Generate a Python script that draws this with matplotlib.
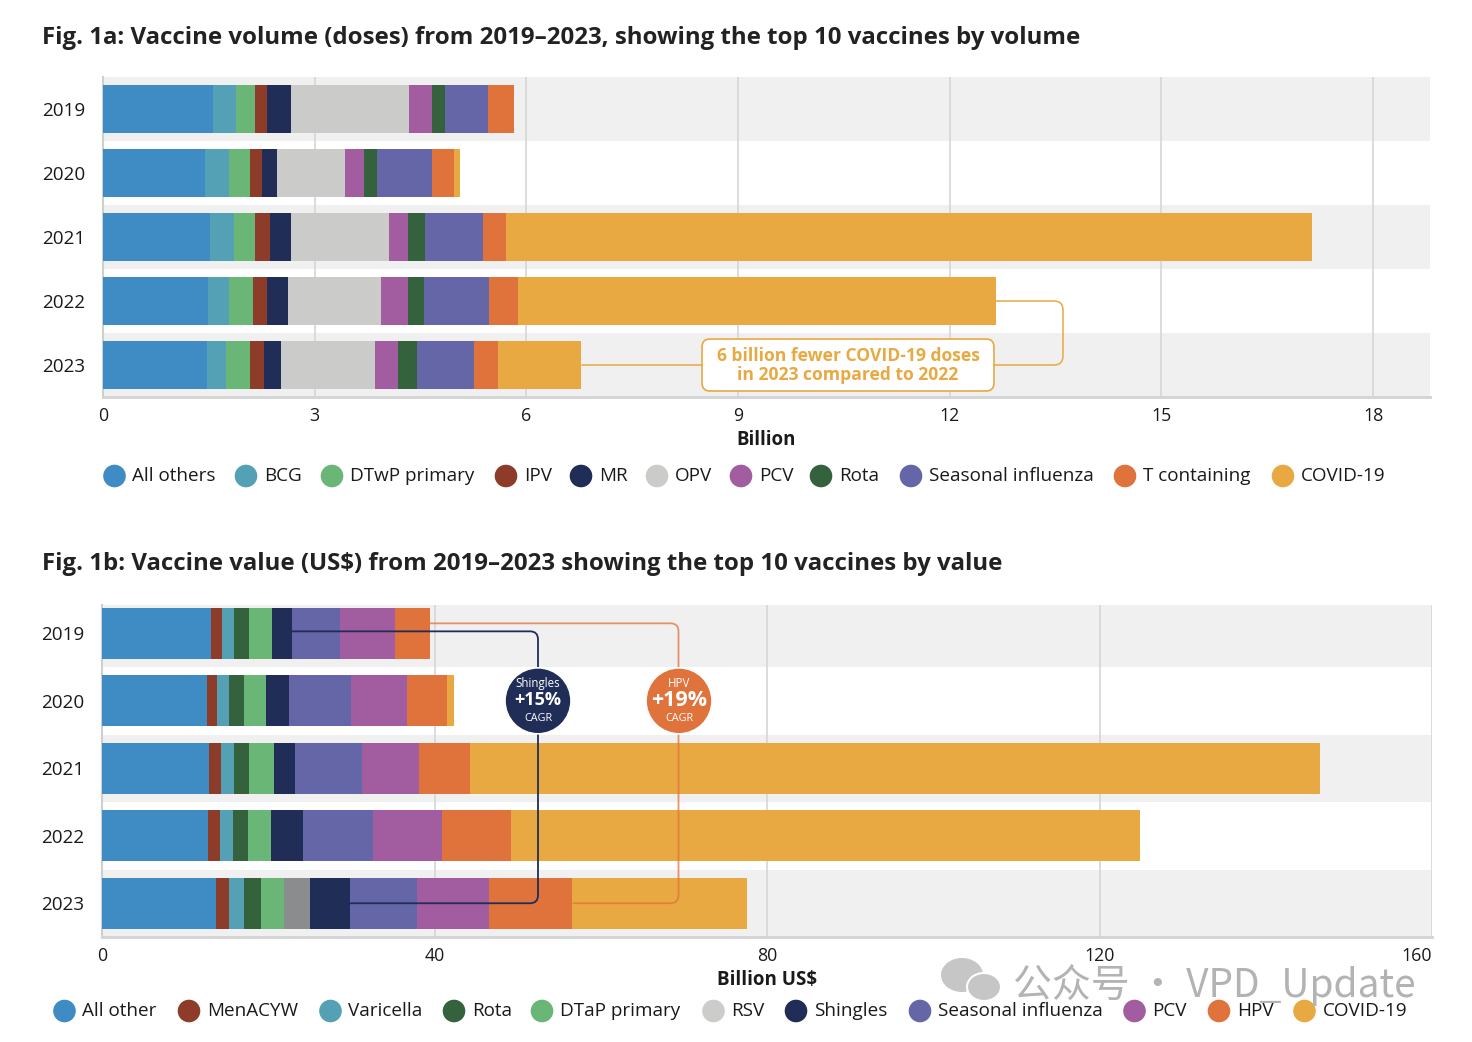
import matplotlib
matplotlib.use('Agg')
import matplotlib.pyplot as plt
import numpy as np
from matplotlib.path import Path
from matplotlib.patches import PathPatch, FancyBboxPatch, Circle, Ellipse

plt.rcParams['font.family'] = ['Open Sans', 'DejaVu Sans']

# ---------------- data ----------------
years = ['2019', '2020', '2021', '2022', '2023']

# Fig 1a: volume (billion doses)
vol_categories = ['All others', 'BCG', 'DTwP primary', 'IPV', 'MR', 'OPV', 'PCV',
                  'Rota', 'Seasonal influenza', 'T containing', 'COVID-19']
vol_all_others = [1.56, 1.45, 1.52, 1.49, 1.47]
vol_bcg = [0.33, 0.33, 0.33, 0.30, 0.28]
vol_dtwp = [0.27, 0.31, 0.30, 0.33, 0.34]
vol_ipv = [0.17, 0.17, 0.21, 0.20, 0.19]
vol_mr = [0.33, 0.21, 0.30, 0.30, 0.24]
vol_opv = [1.67, 0.96, 1.39, 1.32, 1.33]
vol_pcv = [0.33, 0.27, 0.27, 0.38, 0.33]
vol_rota = [0.18, 0.18, 0.24, 0.23, 0.27]
vol_flu = [0.62, 0.78, 0.82, 0.92, 0.81]
vol_tcont = [0.37, 0.31, 0.33, 0.41, 0.34]
vol_covid = [0.0, 0.085, 11.42, 6.77, 1.18]
vol_colors = ['#3f8cc4', '#54a0b4', '#69b677', '#8c3c28', '#1f2d57', '#cbcbc9',
              '#a25da0', '#33623d', '#6466a8', '#e0723c', '#e8a942']
vol_ticks = [0, 3, 6, 9, 12, 15, 18]

# Fig 1b: value (billion US$)
val_categories = ['All other', 'MenACYW', 'Varicella', 'Rota', 'DTaP primary', 'RSV',
                  'Shingles', 'Seasonal influenza', 'PCV', 'HPV', 'COVID-19']
val_all_other = [13.1, 12.6, 12.9, 12.75, 13.7]
val_menacyw = [1.3, 1.2, 1.45, 1.45, 1.55]
val_varicella = [1.45, 1.45, 1.55, 1.55, 1.8]
val_rota = [1.8, 1.8, 1.8, 1.8, 2.05]
val_dtap = [2.75, 2.65, 3.0, 2.75, 2.75]
val_rsv = [0.0, 0.0, 0.0, 0.0, 3.15]
val_shingles = [2.4, 2.75, 2.55, 3.85, 4.8]
val_flu = [5.8, 7.45, 8.05, 8.4, 8.15]
val_pcv = [6.6, 6.75, 6.85, 8.3, 8.65]
val_hpv = [4.2, 4.8, 6.15, 8.4, 10.0]
val_covid = [0.0, 0.85, 102.2, 75.6, 21.05]
val_colors = ['#3f8cc4', '#8c3c28', '#54a0b4', '#33623d', '#69b677', '#8a8c8e',
              '#1f2d57', '#6466a8', '#a25da0', '#e0723c', '#e8a942']
val_legend_colors = ['#3f8cc4', '#8c3c28', '#54a0b4', '#33623d', '#69b677', '#cccccb',
                     '#1f2d57', '#6466a8', '#a25da0', '#e0723c', '#e8a942']
val_ticks = [0, 40, 80, 120, 160]

vol_series = [vol_all_others, vol_bcg, vol_dtwp, vol_ipv, vol_mr, vol_opv, vol_pcv,
              vol_rota, vol_flu, vol_tcont, vol_covid]
val_series = [val_all_other, val_menacyw, val_varicella, val_rota, val_dtap, val_rsv,
              val_shingles, val_flu, val_pcv, val_hpv, val_covid]

# ---------------- figure ----------------
W, H = 1472, 1042
fig = plt.figure(figsize=(W / 100, H / 100), dpi=100)
TXT = '#1a1a1a'


def make_ax(left, top, right, bottom):
    return fig.add_axes([left / W, 1 - bottom / H, (right - left) / W, (bottom - top) / H])


def style_ax(ax, xmax, ticks, bar_h, series, colors, ytop):
    n = len(years)
    ax.set_xlim(0, xmax)
    ax.set_ylim(n - 0.5, ytop)
    for i in range(n):
        if i % 2 == 0:
            ax.axhspan(i - 0.5, i + 0.5, color='#f0f0f0', lw=0, zorder=0)
    ax.set_axisbelow(True)
    ax.xaxis.grid(True, color='#d6d6d6', lw=1.2)
    ax.yaxis.grid(False)
    y = np.arange(n)
    left = np.zeros(n)
    for vals, c in zip(series, colors):
        v = np.array(vals, dtype=float)
        ax.barh(y, v, left=left, height=bar_h, color=c, lw=0, zorder=3)
        left += v
    ax.set_xticks(ticks)
    ax.set_xticklabels([str(t) for t in ticks])
    ax.set_yticks(y)
    ax.set_yticklabels(years)
    ax.tick_params(axis='both', length=0, labelsize=12.8, colors=TXT)
    ax.tick_params(axis='y', pad=13, labelsize=13.6)
    ax.tick_params(axis='x', pad=7)
    for s in ['top', 'right']:
        ax.spines[s].set_visible(False)
    ax.spines['left'].set_color('#cfcfcf')
    ax.spines['left'].set_linewidth(1.5)
    ax.spines['bottom'].set_color('#d3d3d3')
    ax.spines['bottom'].set_linewidth(2)
    ax.patch.set_alpha(0)


ax1 = make_ax(103, 77, 1430, 397)
style_ax(ax1, (1430 - 103) / 70.56, vol_ticks, 0.75, vol_series, vol_colors, -0.5)

ax2 = make_ax(102, 605, 1432, 937)
style_ax(ax2, 160, val_ticks, 0.755, val_series, val_colors, -0.42)
lbls = ax2.get_xticklabels()
lbls[-1].set_horizontalalignment('right')

# overlay axes in pixel coordinates
ax0 = fig.add_axes([0, 0, 1, 1], zorder=10)
ax0.set_xlim(0, W)
ax0.set_ylim(H, 0)
ax0.axis('off')


def to_px(ax, x, y):
    d = ax.transData.transform((x, y))
    return d[0], H - d[1]


def rounded_path(pts, r):
    verts = [pts[0]]
    codes = [Path.MOVETO]
    for i in range(1, len(pts) - 1):
        p0, p1, p2 = np.array(pts[i - 1]), np.array(pts[i]), np.array(pts[i + 1])
        d1 = (p1 - p0) / np.linalg.norm(p1 - p0)
        d2 = (p2 - p1) / np.linalg.norm(p2 - p1)
        a = p1 - d1 * r
        b = p1 + d2 * r
        verts += [tuple(a), tuple(p1), tuple(b)]
        codes += [Path.LINETO, Path.CURVE3, Path.CURVE3]
    verts.append(pts[-1])
    codes.append(Path.LINETO)
    return Path(verts, codes)


# titles
fig.text(42 / W, 1 - 38 / H,
         'Fig. 1a: Vaccine volume (doses) from 2019\u20132023, showing the top 10 vaccines by volume',
         ha='left', va='center', fontsize=17.3, weight='bold', color='#222222')
fig.text(42 / W, 1 - 564 / H,
         'Fig. 1b: Vaccine value (US$) from 2019\u20132023 showing the top 10 vaccines by value',
         ha='left', va='center', fontsize=17.3, weight='bold', color='#222222')

# axis labels
ax0.text(766, 440, 'Billion', ha='center', va='center', fontsize=13.4, weight='bold', color=TXT)
ax0.text(767, 980, 'Billion US$', ha='center', va='center', fontsize=13.5, weight='bold', color=TXT)

# legends
leg1_x = [114.5, 246, 332, 506, 581, 657, 741, 821, 911, 1125, 1283]
leg2_x = [64.5, 189, 330.5, 454, 542, 713.5, 796, 920, 1134.5, 1219, 1304.5]


def draw_legend(xs, yc, names, colors):
    for x, nme, c in zip(xs, names, colors):
        ax0.add_patch(Circle((x, yc), 11.3, fc=c, ec='none'))
        ax0.text(x + 18, yc, nme, ha='left', va='center', fontsize=13.6, color=TXT)


draw_legend(leg1_x, 476, vol_categories, vol_colors)
draw_legend(leg2_x, 1011, val_categories, val_legend_colors)

# ---- annotation 1a ----
tot = np.sum(np.array(vol_series), axis=0)
x22, y22 = to_px(ax1, tot[3], 3)
x23, y23 = to_px(ax1, tot[4], 4)
gold = '#e8a942'
p = rounded_path([(x23, y23), (1063, y23), (1063, y22), (x22, y22)], 9)
ax0.add_patch(PathPatch(p, fc='none', ec=gold, lw=1.1))
ax0.add_patch(FancyBboxPatch((702, 339), 292, 52, boxstyle='round,pad=0,rounding_size=8',
                             fc='white', ec=gold, lw=1.2, zorder=5))
ax0.text(848, 356, '6 billion fewer COVID-19 doses', ha='center', va='center',
         fontsize=12.6, weight='bold', color=gold, zorder=6)
ax0.text(848, 375, 'in 2023 compared to 2022', ha='center', va='center',
         fontsize=12.6, weight='bold', color=gold, zorder=6)

# ---- annotations 1b ----
cum = np.cumsum(np.array(val_series), axis=0)
navy = '#1f2d57'
orange = '#e0723c'
sx19, sy19 = to_px(ax2, cum[6][0], 0)
sx23, sy23 = to_px(ax2, cum[6][4], 4)
hx19, hy19 = to_px(ax2, cum[9][0], 0)
hx23, hy23 = to_px(ax2, cum[9][4], 4)
_, yr1 = to_px(ax2, 0, 1)

p = rounded_path([(hx19, hy19 - 10), (678.5, hy19 - 10), (678.5, hy23), (hx23, hy23)], 8)
ax0.add_patch(PathPatch(p, fc='none', ec=orange, lw=1.3, alpha=0.75))
p = rounded_path([(sx19, sy19 - 2), (538, sy19 - 2), (538, sy23), (sx23, sy23)], 8)
ax0.add_patch(PathPatch(p, fc='none', ec=navy, lw=1.3))

for cx, col, top, big, bsize in [(538, navy, 'Shingles', '+15%', 13), (679, orange, 'HPV', '+19%', 15.5)]:
    ax0.add_patch(Circle((cx, yr1), 33, fc=col, ec='white', lw=1.2, zorder=5))
    ax0.text(cx, yr1 - 17.5, top, ha='center', va='center', fontsize=8.3, color='white', zorder=6)
    ax0.text(cx, yr1 - 0.5, big, ha='center', va='center', fontsize=bsize, weight='bold',
             color='white', zorder=6)
    ax0.text(cx, yr1 + 17.5, 'CAGR', ha='center', va='center', fontsize=7.8, color='white', zorder=6)

# watermark
ax0.add_patch(Ellipse((962, 975), 42, 34, fc='#c6c6c6', ec='none', zorder=1))
ax0.add_patch(Ellipse((984, 987), 34, 28, fc='#c6c6c6', ec='white', lw=1.5, zorder=1))
ax0.text(1013, 985, '公众号 · VPD_Update', ha='left', va='center', fontsize=28,
         color='#b3b3b3', family=['Noto Sans CJK SC', 'DejaVu Sans'], zorder=1)

fig.savefig('out.png', dpi=100)
